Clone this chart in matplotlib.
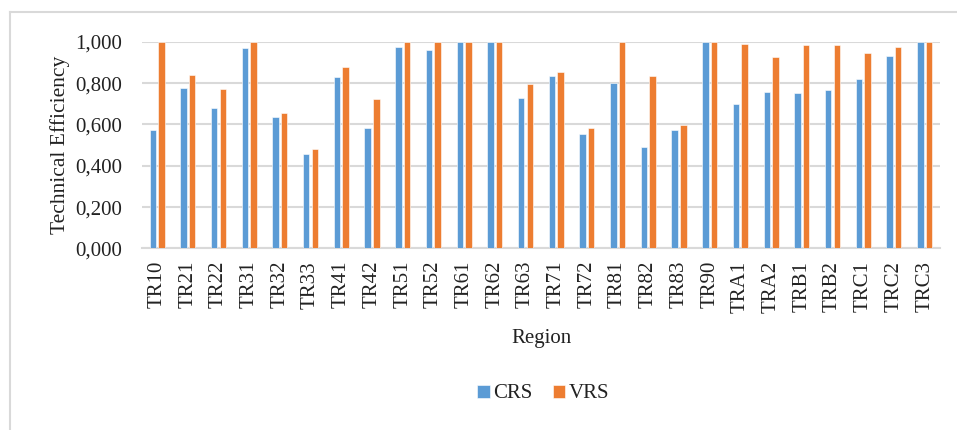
import matplotlib
matplotlib.use("Agg")
import matplotlib.pyplot as plt
import numpy as np
from matplotlib.lines import Line2D
from matplotlib.ticker import FuncFormatter, MultipleLocator

regions = ["TR10", "TR21", "TR22", "TR31", "TR32", "TR33", "TR41", "TR42", "TR51", "TR52",
           "TR61", "TR62", "TR63", "TR71", "TR72", "TR81", "TR82", "TR83", "TR90", "TRA1",
           "TRA2", "TRB1", "TRB2", "TRC1", "TRC2", "TRC3"]
crs = [0.572, 0.777, 0.679, 0.969, 0.635, 0.455, 0.827, 0.585, 0.975, 0.958,
       1.000, 1.000, 0.727, 0.832, 0.553, 0.801, 0.492, 0.572, 1.000, 0.697,
       0.758, 0.751, 0.766, 0.819, 0.932, 1.000]
vrs = [1.000, 0.838, 0.771, 1.000, 0.653, 0.479, 0.877, 0.722, 1.000, 1.000,
       1.000, 1.000, 0.795, 0.853, 0.585, 1.000, 0.832, 0.597, 1.000, 0.988,
       0.925, 0.982, 0.982, 0.945, 0.975, 1.000]

plt.rcParams['font.family'] = ['Liberation Serif', 'DejaVu Serif']

W, H = 957, 430
fig = plt.figure(figsize=(W / 100, H / 100), dpi=100)
ax = fig.add_axes([141.7 / W, 1 - 248.5 / H, (940 - 141.7) / W, (248.5 - 41.7) / H])

x = np.arange(len(regions))
bw = 0.21
off = 0.14
ax.bar(x - off, crs, bw, color="#5B9BD5", edgecolor="white", linewidth=0.4, label="CRS", zorder=3)
ax.bar(x + off, vrs, bw, color="#ED7D31", edgecolor="white", linewidth=0.4, label="VRS", zorder=3)

ax.set_xlim(-0.5, len(regions) - 0.5)
ax.set_ylim(0, 1.0)
ax.yaxis.set_major_locator(MultipleLocator(0.2))
ax.yaxis.set_major_formatter(FuncFormatter(lambda v, p: f"{v:.3f}".replace(".", ",")))
ax.set_xticks(x)
ax.set_xticklabels(regions, rotation=90, fontsize=15, color="#222222")
ax.tick_params(axis="x", length=0, pad=9)
ax.tick_params(axis="y", length=0, pad=14, labelsize=15, labelcolor="#222222")

ax.grid(axis="y", color="#D9D9D9", linewidth=1.5, zorder=0)
ax.set_axisbelow(True)
for s in ["top", "right", "left"]:
    ax.spines[s].set_visible(False)
ax.spines["bottom"].set_color("#D9D9D9")
ax.spines["bottom"].set_linewidth(1.5)

ax.set_ylabel("Technical Efficiency", fontsize=15.5, labelpad=4, color="#222222")
fig.text(541 / W, 1 - 339 / H, "Region", fontsize=15, ha="center", va="center", color="#222222")

leg = fig.legend(loc="center", bbox_to_anchor=(543 / W, 1 - 394 / H), ncol=2, frameon=False,
                 fontsize=15, handlelength=0.6, handleheight=0.6, handletextpad=0.15,
                 columnspacing=1.0, labelcolor="#222222")

fig.add_artist(Line2D([9.5 / W, 9.5 / W], [0, 1 - 12 / H], transform=fig.transFigure,
                      color="#D9D9D9", linewidth=1.5))
fig.add_artist(Line2D([9.5 / W, 1], [1 - 12 / H, 1 - 12 / H], transform=fig.transFigure,
                      color="#D9D9D9", linewidth=1.5))

fig.savefig("out.png", dpi=100)
